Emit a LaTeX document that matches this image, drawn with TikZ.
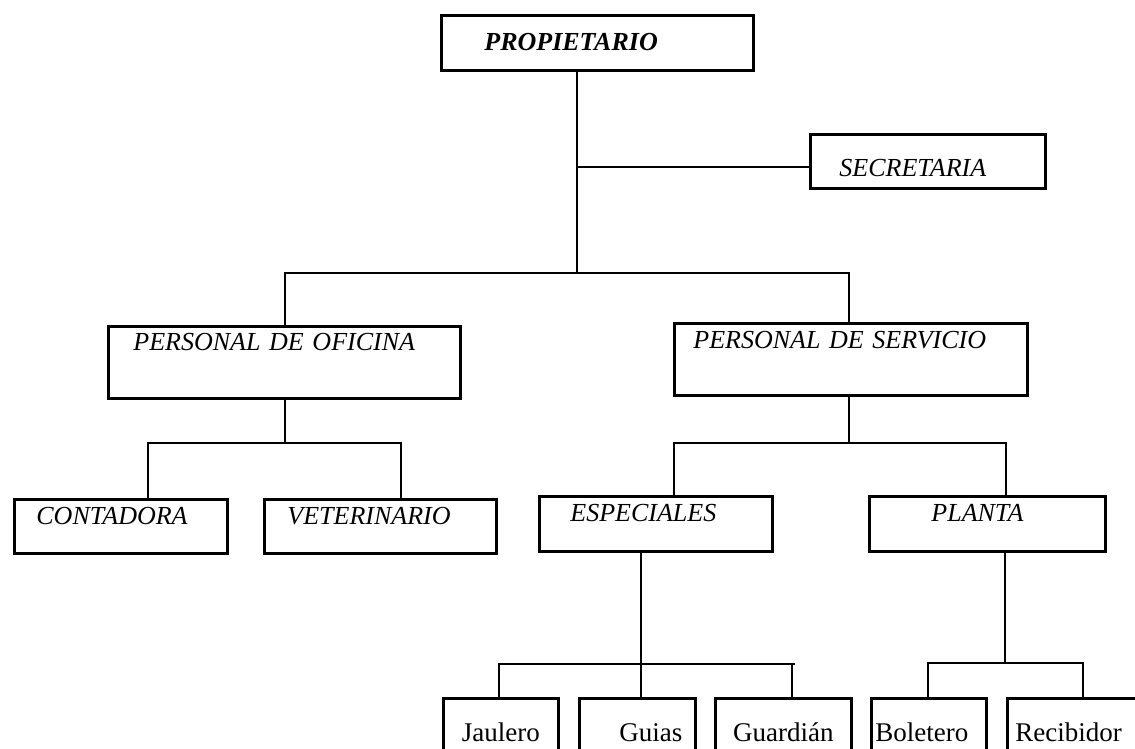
\documentclass[tikz,border=0pt]{standalone}
\usepackage{fontspec}
\setmainfont{Liberation Serif}
\usetikzlibrary{positioning}

\tikzset{
  caja/.style={draw, line width=2.8pt, anchor=north west, inner ysep=0pt, align=left,
    font=\fontsize{26}{30}\selectfont\itshape},
  cajabaja/.style={caja, align=center, inner xsep=4pt, text height=43pt, text depth=47pt,
    font=\fontsize{27}{30}\selectfont},
  linea/.style={line width=2.8pt}
}

\begin{document}
\begin{tikzpicture}[x=1pt,y=-1pt]
  \useasboundingbox (0,0) rectangle (1135,749);
  \clip (0,0) rectangle (1135,749);
  % cajas
  \node[caja, inner xsep=43pt, text width=226pt, text height=35pt, text depth=20pt,
    font=\fontsize{26}{30}\selectfont\bfseries\itshape] (prop) at (440,14) {PROPIETARIO};
  \node[caja, inner xsep=29pt, text width=177pt, text height=42pt, text depth=12pt] (secr) at (809,133) {SECRETARIA};
  \node[caja, inner xsep=25pt, text width=302pt, text height=24pt, text depth=48pt] (ofic) at (107,325) {PERSONAL DE OFICINA};
  \node[caja, inner xsep=19pt, text width=315pt, text height=25pt, text depth=47pt] (serv) at (673,322) {PERSONAL DE SERVICIO};
  \node[caja, inner xsep=22pt, text width=169pt, text height=25pt, text depth=29pt] (cont) at (13,498) {CONTADORA};
  \node[caja, inner xsep=23pt, text width=186pt, text height=25pt, text depth=29pt] (vete) at (263,498) {VETERINARIO};
  \node[caja, inner xsep=31pt, text width=171pt, text height=25pt, text depth=30pt] (espe) at (538,495) {ESPECIALES};
  \node[caja, inner xsep=62pt, text width=112pt, text height=25pt, text depth=30pt] (plan) at (868,495) {PLANTA};
  \node[cajabaja, text width=107pt] (jaul) at (442,697) {Jaulero};
  \node[cajabaja, align=right, inner xsep=13pt, text width=90pt] (guia) at (578,697) {Guias};
  \node[cajabaja, text width=128pt] (guar) at (714,697) {Guardián};
  \node[cajabaja, align=left, text width=107pt] (bole) at (870,697) {Boletero};
  \node[cajabaja, align=left, inner xsep=8pt, text width=138pt] (reci) at (1006,697) {Recibidor};
  % uniones
  \coordinate (t1) at (577,273);
  \coordinate (ts) at (577,167);
  \coordinate (r1) at (285,273);
  \coordinate (r2) at (849,273);
  \coordinate (o1) at (285,443);
  \coordinate (o2) at (148,443);
  \coordinate (o3) at (401,443);
  \coordinate (s1) at (849,443);
  \coordinate (s2) at (674,443);
  \coordinate (s3) at (1006,443);
  \coordinate (e1) at (641,664);
  \coordinate (e2) at (499,664);
  \coordinate (e3) at (792,664);
  \coordinate (p1) at (1005,663);
  \coordinate (p2) at (928,663);
  \coordinate (p3) at (1083,663);
  \draw[linea] (t1 |- prop.south) -- (t1);
  \draw[linea] (ts) -- (ts -| secr.west);
  \draw[linea] (r1 |- ofic.north) -- (r1) -- (r2) -- (r2 |- serv.north);
  \draw[linea] (o1 |- ofic.south) -- (o1);
  \draw[linea] (o2 |- cont.north) -- (o2) -- (o3) -- (o3 |- vete.north);
  \draw[linea] (s1 |- serv.south) -- (s1);
  \draw[linea] (s2 |- espe.north) -- (s2) -- (s3) -- (s3 |- plan.north);
  \draw[linea] (e1 |- espe.south) -- (e1 |- guia.north);
  \draw[linea] (e2 |- jaul.north) -- (e2) -- (e3 -| 795,0) ;
  \draw[linea] (e3) -- (e3 |- guar.north);
  \draw[linea] (p1 |- plan.south) -- (p1);
  \draw[linea] (p2 |- bole.north) -- (p2) -- (p3) -- (p3 |- reci.north);
\end{tikzpicture}
\end{document}
